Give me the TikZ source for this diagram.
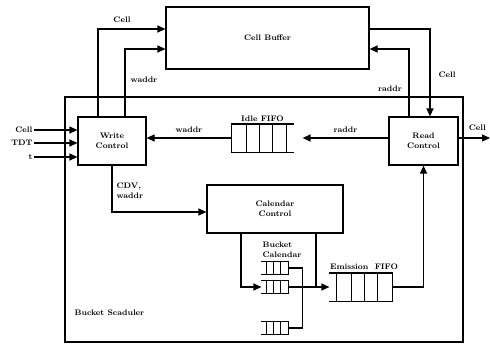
\documentclass[tikz,border=0pt]{standalone}
\usepackage{tikz}
\usetikzlibrary{arrows.meta, positioning}

\begin{document}
\begin{tikzpicture}[
  x=1pt, y=-1pt,
  line width=1.2pt,
  blk/.style={rectangle, draw, line width=1.2pt, inner sep=0pt, align=center, font=\bfseries\fontsize{8}{10.5}\selectfont},
  lbl/.style={font=\bfseries\fontsize{8}{9.5}\selectfont, inner sep=1pt, align=left},
  fifo/.style={rectangle, inner sep=0pt, minimum width=#1},
  arr/.style={-{Triangle[length=8pt,width=7pt]}}
]
  \useasboundingbox (0,0) rectangle (490,345);

  % main blocks
  \node[blk, minimum width=203pt, minimum height=62pt] (buffer) at (267.5,38) {Cell Buffer};
  \node[blk, minimum width=398pt, minimum height=245pt] (sched) at (264,219.5) {};
  \node[blk, minimum width=68pt, minimum height=48pt] (write) at (112,141) {Write\\Control};
  \node[blk, minimum width=69pt, minimum height=48pt] (read) at (423.5,141) {Read\\Control};
  \node[blk, minimum width=136pt, minimum height=48pt] (calctl) at (275,209) {Calendar\\Control};

  % fifos
  \node[fifo=61pt, minimum height=27pt] (idle) at (262.5,138) {};
  \node[fifo=62pt, minimum height=27pt] (emis) at (361,287) {};
  \node[fifo=26pt, minimum height=12pt] (bk1) at (275,268) {};
  \node[fifo=26pt, minimum height=12pt] (bk2) at (275,287) {};
  \node[fifo=26pt, minimum height=12pt] (bk3) at (275,328) {};

  \draw (idle.north east) -- (idle.north west) -- (idle.south west) -- (idle.south east);
  \foreach \d in {15,28,41,55}
    \draw ([xshift=\d pt]idle.north west) -- ([xshift=\d pt]idle.south west);
  \draw (emis.north west) -- (emis.north east) -- (emis.south east) -- (emis.south west);
  \foreach \d in {7,22,35,48}
    \draw ([xshift=\d pt]emis.north west) -- ([xshift=\d pt]emis.south west);
  \foreach \b in {bk1,bk2,bk3} {
    \draw (\b.north west) -- (\b.north east) -- (\b.south east) -- (\b.south west);
    \foreach \d in {5,12,19}
      \draw ([xshift=\d pt]\b.north west) -- ([xshift=\d pt]\b.south west);
  }

  % labels
  \node[lbl, above=1pt of idle] (idlelbl) {Idle FIFO};
  \node[lbl] (emislbl) at (364,267) {Emission\ \ FIFO};
  \node[lbl, anchor=west] (bcal) at (261,250) {Bucket\\Calendar};
  \node[lbl, anchor=west] (schedlbl) at (73,313) {Bucket Scaduler};

  % inputs
  \node[lbl, anchor=east] (incell) at (34,130) {Cell};
  \node[lbl, anchor=east] (intdt) at (34,143) {TDT};
  \node[lbl, anchor=east] (int) at (34,157) {t};
  \draw[arr] (incell.east) -- (incell.east -| write.west);
  \draw[arr] (intdt.east) -- (intdt.east -| write.west);
  \draw[arr] (int.east) -- (int.east -| write.west);

  % write side
  \draw[arr] ([xshift=-14pt]write.north) |- ([yshift=9pt]buffer.west);
  \node[lbl] at (122,20) {Cell};
  \draw[arr] ([xshift=13pt]write.north) |- ([yshift=-11pt]buffer.west);
  \node[lbl] at (144,80) {waddr};
  \draw[arr] (idle.west) -- node[lbl, above=4pt] {waddr} (idle.west -| write.east);
  \draw[arr] (write.south) |- node[lbl, pos=0.25, right=3pt, yshift=-2pt] {CDV,\\waddr} ([yshift=-3pt]calctl.west);

  % read side
  \draw[arr] ([yshift=9pt]buffer.east) -| ([xshift=6.5pt]read.north);
  \node[lbl] at (447,75) {Cell};
  \draw[arr] ([xshift=-14.5pt]read.north) |- ([yshift=-11pt]buffer.east);
  \node[lbl] at (390,89) {raddr};
  \draw[arr] (idle.east -| read.west) -- node[lbl, above=4pt] {raddr} ([xshift=9pt]idle.east);
  \coordinate (out) at (490,138);
  \draw[arr] (read.east |- out) -- node[lbl, above=6pt, xshift=3pt] {Cell} (out);

  % bucket calendar
  \draw[arr] ([xshift=-34pt]calctl.south) |- (bk2.west);
  \draw[arr] (bk2.east) -- (emis.west);
  \draw ([xshift=41pt]calctl.south) -- ([xshift=41pt]calctl.south |- bk2.east);
  \draw (bk1.east) -- ++(14,0) |- (bk3.east);
  \draw[arr] (emis.east) -| (read.south);
\end{tikzpicture}
\end{document}
